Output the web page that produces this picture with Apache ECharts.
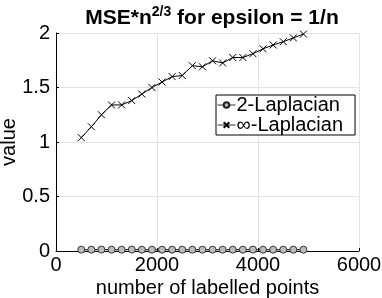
<!DOCTYPE html>
<html><head><meta charset="utf-8">
<script src="https://cdn.jsdelivr.net/npm/echarts@6/dist/echarts.min.js"></script>
<style>html,body{margin:0;padding:0;background:#fff}#c{width:382px;height:298px}</style>
</head><body><div id="c"></div>
<script>
var nPoints = [500,700,900,1100,1300,1500,1700,1900,2100,2300,2500,2700,2900,3100,3300,3500,3700,3900,4100,4300,4500,4700,4900];
var lap2 = [0.012,0.012,0.013,0.012,0.012,0.013,0.012,0.012,0.012,0.012,0.012,0.012,0.012,0.012,0.012,0.012,0.012,0.013,0.012,0.012,0.012,0.012,0.012];
var lapInf = [1.04,1.14,1.25,1.34,1.34,1.38,1.44,1.50,1.55,1.60,1.61,1.70,1.69,1.745,1.725,1.775,1.775,1.81,1.855,1.89,1.92,1.955,1.99];
var xTicks = [0,2000,4000,6000];
var yTicks = [0,0.5,1,1.5,2];

var F = 'Liberation Sans, Arial, Helvetica, sans-serif';
var chart = echarts.init(document.getElementById('c'), null, {renderer:'canvas'});
function pairs(xs, ys){ return xs.map(function(x,i){return [x, ys[i]];}); }
chart.setOption({
  animation:false,
  backgroundColor:'#fff',
  title:{
    text:'{a|MSE*n}{s|2/3}{a| for epsilon = 1/n}',
    left:207, textAlign:'center', top:0,
    textStyle:{rich:{
      a:{fontFamily:F,fontWeight:'bold',fontSize:21,color:'#000',verticalAlign:'bottom'},
      s:{fontFamily:F,fontWeight:'bold',fontSize:14,color:'#000',padding:[0,0,10,0],verticalAlign:'bottom'}
    }}
  },
  grid:{left:56,right:23,top:33,bottom:47,containLabel:false,outerBoundsMode:'none'},
  legend:{
    orient:'vertical', left:216, top:95,
    borderColor:'#000', borderWidth:1, padding:[0,12,0,1],
    itemGap:0, itemWidth:18, itemHeight:7,
    backgroundColor:'#fff',
    lineStyle:{width:1,color:'#333'},
    textStyle:{fontFamily:F,fontSize:20,color:'#000',padding:[0,0,0,-4],lineHeight:19},
    data:['2-Laplacian','\u221e-Laplacian']
  },
  xAxis:{
    type:'value', min:0, max:6000, interval:2000,
    name:'number of labelled points', nameLocation:'middle', nameGap:27, nameMoveOverlap:false,
    nameTextStyle:{fontFamily:F,fontSize:20,color:'#000'},
    axisLine:{show:true,lineStyle:{color:'#000',width:1}},
    axisTick:{show:true,inside:true,length:3,lineStyle:{color:'#000'}},
    axisLabel:{fontFamily:F,fontSize:20,color:'#000',margin:4,
      formatter:function(v){return xTicks.indexOf(v)>=0?String(v):'';}},
    splitLine:{show:true,lineStyle:{color:'#e3e3e3',width:1}}
  },
  yAxis:{
    type:'value', min:0, max:2, interval:0.5,
    name:'value', nameLocation:'middle', nameGap:37, nameRotate:90, nameMoveOverlap:false,
    nameTextStyle:{fontFamily:F,fontSize:20,color:'#000'},
    axisLine:{show:true,lineStyle:{color:'#000',width:1}},
    axisTick:{show:true,inside:true,length:3,lineStyle:{color:'#000'}},
    axisLabel:{fontFamily:F,fontSize:20,color:'#000',margin:6,
      formatter:function(v){return yTicks.indexOf(v)>=0?String(v):'';}},
    splitLine:{show:true,lineStyle:{color:'#e3e3e3',width:1}}
  },
  series:[
    {name:'2-Laplacian', type:'line', data:pairs(nPoints,lap2),
     symbol:'circle', symbolSize:7, showSymbol:true,
     lineStyle:{color:'#000',width:1},
     itemStyle:{color:'#bdbdbd',borderColor:'#222',borderWidth:0.9}},
    {name:'\u221e-Laplacian', type:'line', data:pairs(nPoints,lapInf),
     symbol:'path://M0,0L10,10M10,0L0,10', symbolSize:7, showSymbol:true,
     lineStyle:{color:'#000',width:1},
     itemStyle:{color:'rgba(0,0,0,0)',borderColor:'#000',borderWidth:1}}
  ]
});
</script></body></html>
